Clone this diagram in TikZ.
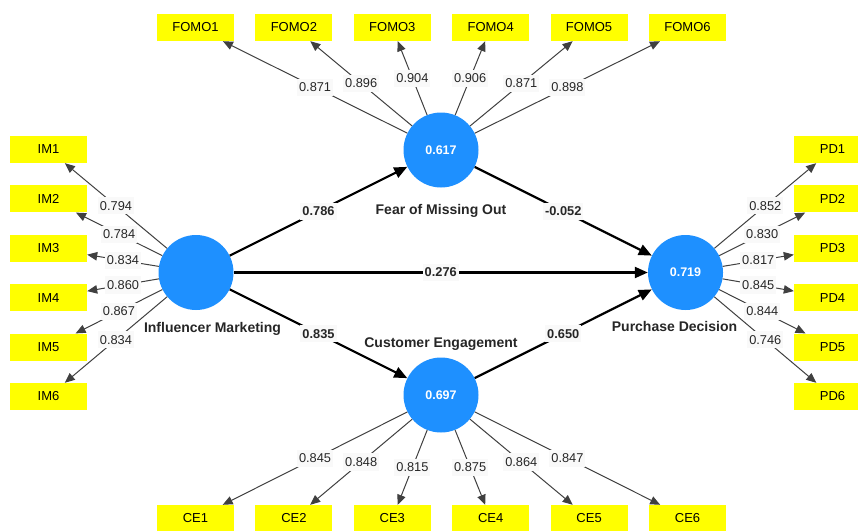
\documentclass[tikz,border=0pt]{standalone}
\usepackage{fontspec}
\setmainfont{Liberation Sans}
\usetikzlibrary{positioning, arrows.meta}
\definecolor{plsblue}{RGB}{30,144,255}
\definecolor{plsyellow}{RGB}{255,255,0}
\definecolor{labelbg}{RGB}{249,249,249}

\begin{document}
\begin{tikzpicture}[
    x=1pt, y=-1pt,
    indicator/.style={
        fill=plsyellow,
        minimum width=77pt,
        minimum height=27pt,
        inner sep=0pt,
        font=\fontsize{13}{15}\selectfont
    },
    latent/.style={
        circle,
        fill=plsblue,
        minimum size=75pt,
        inner sep=0pt,
        text=white,
        font=\fontsize{12.5}{14}\selectfont\bfseries
    },
    latentname/.style={inner sep=0pt, text=black!85, font=\fontsize{14}{16}\selectfont\bfseries},
    loadval/.style={fill=labelbg, inner xsep=2pt, inner ysep=4pt, text=black!85, font=\fontsize{12.8}{14}\selectfont},
    pathval/.style={loadval, font=\fontsize{12.8}{14}\selectfont\bfseries},
    loading/.style={-{Triangle[length=10pt,width=8.5pt]}, draw=black!75, line width=1pt},
    structural/.style={-{Triangle[length=13pt,width=11pt]}, draw=black, line width=2.2pt}
]
\useasboundingbox (0,0) rectangle (858,530);

% ======================
% Latent variables
% ======================
\node[latent] (IM) at (196,272.5) {};
\node[latent] (FOMO) at (441,150) {0.617};
\node[latent] (CE) at (441,395) {0.697};
\node[latent] (PD) at (685.5,272.5) {0.719};

\node[latentname, below=12pt of IM, xshift=16.5pt] (IM_name) {Influencer Marketing};
\node[latentname, below=16pt of FOMO] (FOMO_name) {Fear of Missing Out};
\node[latentname, above=6.5pt of CE] (CE_name) {Customer Engagement};
\node[latentname, below=10.5pt of PD, xshift=-11pt] (PD_name) {Purchase Decision};

% ======================
% FOMO indicators
% ======================
\node[indicator] (FOMO1) at (195.5,27.5) {FOMO1};
\node[indicator, right=21pt of FOMO1] (FOMO2) {FOMO2};
\node[indicator, right=21pt of FOMO2] (FOMO3) {FOMO3};
\node[indicator, right=21pt of FOMO3] (FOMO4) {FOMO4};
\node[indicator, right=21pt of FOMO4] (FOMO5) {FOMO5};
\node[indicator, right=21pt of FOMO5] (FOMO6) {FOMO6};

% ======================
% IM indicators
% ======================
\node[indicator] (IM1) at (48.5,149.5) {IM1};
\node[indicator, below=22pt of IM1] (IM2) {IM2};
\node[indicator, below=22pt of IM2] (IM3) {IM3};
\node[indicator, below=22pt of IM3] (IM4) {IM4};
\node[indicator, below=22pt of IM4] (IM5) {IM5};
\node[indicator, below=22pt of IM5] (IM6) {IM6};

% ======================
% PD indicators
% ======================
\node[indicator] (PD1) at (832.5,149.5) {PD1};
\node[indicator, below=22pt of PD1] (PD2) {PD2};
\node[indicator, below=22pt of PD2] (PD3) {PD3};
\node[indicator, below=22pt of PD3] (PD4) {PD4};
\node[indicator, below=22pt of PD4] (PD5) {PD5};
\node[indicator, below=22pt of PD5] (PD6) {PD6};

% ======================
% CE indicators
% ======================
\node[indicator] (CE1) at (195.5,518.5) {CE1};
\node[indicator, right=21pt of CE1] (CE2) {CE2};
\node[indicator, right=21pt of CE2] (CE3) {CE3};
\node[indicator, right=21pt of CE3] (CE4) {CE4};
\node[indicator, right=21pt of CE4] (CE5) {CE5};
\node[indicator, right=21pt of CE5] (CE6) {CE6};

% ======================
% Outer loadings
% ======================
\draw[loading] (FOMO) -- node[loadval] {0.871} (FOMO1);
\draw[loading] (FOMO) -- node[loadval] {0.896} (FOMO2);
\draw[loading] (FOMO) -- node[loadval] {0.904} (FOMO3);
\draw[loading] (FOMO) -- node[loadval] {0.906} (FOMO4);
\draw[loading] (FOMO) -- node[loadval] {0.871} (FOMO5);
\draw[loading] (FOMO) -- node[loadval] {0.898} (FOMO6);

\draw[loading] (IM) -- node[loadval] {0.794} (IM1);
\draw[loading] (IM) -- node[loadval] {0.784} (IM2);
\draw[loading] (IM) -- node[loadval] {0.834} (IM3);
\draw[loading] (IM) -- node[loadval] {0.860} (IM4);
\draw[loading] (IM) -- node[loadval] {0.867} (IM5);
\draw[loading] (IM) -- node[loadval] {0.834} (IM6);

\draw[loading] (PD) -- node[loadval] {0.852} (PD1);
\draw[loading] (PD) -- node[loadval] {0.830} (PD2);
\draw[loading] (PD) -- node[loadval] {0.817} (PD3);
\draw[loading] (PD) -- node[loadval] {0.845} (PD4);
\draw[loading] (PD) -- node[loadval] {0.844} (PD5);
\draw[loading] (PD) -- node[loadval] {0.746} (PD6);

\draw[loading] (CE) -- node[loadval] {0.845} (CE1);
\draw[loading] (CE) -- node[loadval] {0.848} (CE2);
\draw[loading] (CE) -- node[loadval] {0.815} (CE3);
\draw[loading] (CE) -- node[loadval] {0.875} (CE4);
\draw[loading] (CE) -- node[loadval] {0.864} (CE5);
\draw[loading] (CE) -- node[loadval] {0.847} (CE6);

% ======================
% Path coefficients
% ======================
\draw[structural] (IM) -- node[pathval] {0.786} (FOMO);
\draw[structural] (IM) -- node[pathval] {0.276} (PD);
\draw[structural] (IM) -- node[pathval] {0.835} (CE);
\draw[structural] (FOMO) -- node[pathval] {-0.052} (PD);
\draw[structural] (CE) -- node[pathval] {0.650} (PD);

\end{tikzpicture}
\end{document}
